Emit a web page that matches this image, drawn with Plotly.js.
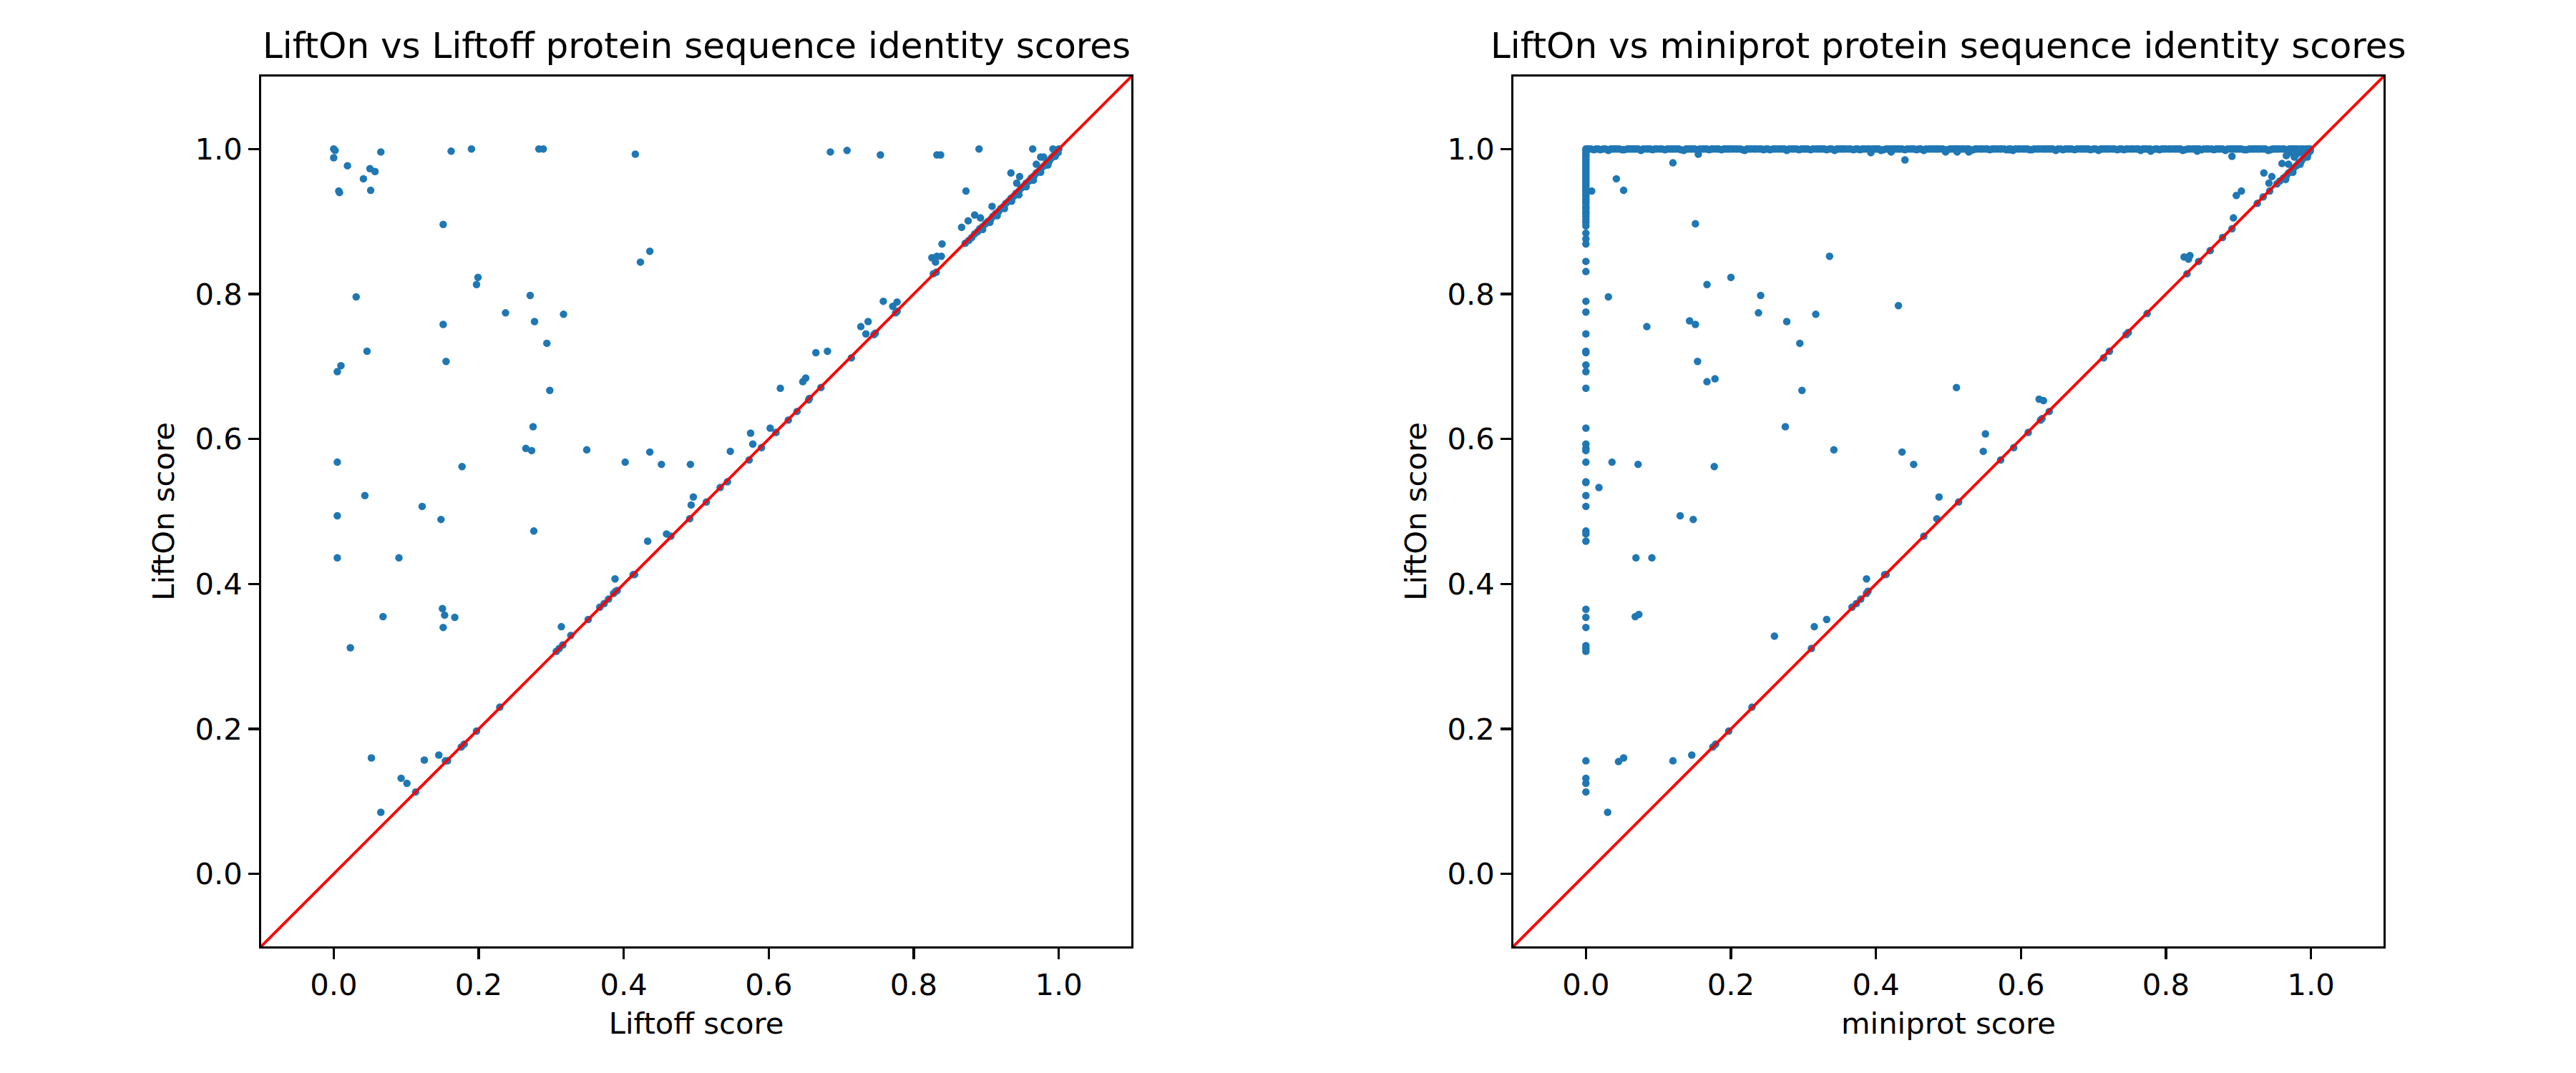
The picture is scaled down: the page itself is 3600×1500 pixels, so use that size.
<!DOCTYPE html>
<html>
<head>
<meta charset="utf-8">
<script src="https://cdn.plot.ly/plotly-3.0.1.min.js"></script>
<style>html,body{margin:0;padding:0;background:#fff;}</style>
</head>
<body>
<div id="chart" style="width:3600px;height:1500px;"></div>
<script>
// ---------- DATA ----------
const titles = ["LiftOn vs Liftoff protein sequence identity scores", "LiftOn vs miniprot protein sequence identity scores"];
const xLabels = ["Liftoff score", "miniprot score"];
const yLabel = "LiftOn score";
const tickValues = [0.0, 0.2, 0.4, 0.6, 0.8, 1.0];
const tickLabels = ["0.0", "0.2", "0.4", "0.6", "0.8", "1.0"];
const axisRange = [-0.1, 1.1];
const diagonal = [-0.1, 1.1];

// Left panel: Liftoff score (x) vs LiftOn score (y)
const liftoffScore = [
  0.000,0.002,0.000,0.019,0.065,0.050,0.057,0.041,0.007,0.008,0.051,0.162,0.190,0.283,0.289,0.416,
  0.151,0.436,0.423,0.199,0.197,0.031,0.271,0.237,0.317,0.277,0.151,0.294,0.046,0.155,0.010,0.005,
  0.298,0.275,0.265,0.273,0.349,0.005,0.177,0.402,0.436,0.452,0.492,0.043,0.122,0.496,0.493,0.005,
  0.148,0.276,0.433,0.459,0.465,0.491,0.005,0.090,0.388,0.413,0.415,0.386,0.389,0.391,0.379,0.373,
  0.367,0.351,0.068,0.150,0.153,0.167,0.151,0.314,0.327,0.316,0.311,0.307,0.023,0.229,0.197,0.176,
  0.180,0.052,0.125,0.145,0.154,0.157,0.093,0.101,0.113,0.065,
  0.685,0.708,0.754,0.832,0.837,0.890,0.964,0.992,0.975,0.979,0.969,0.934,0.946,0.942,0.872,0.908,
  0.884,0.892,0.875,0.866,0.839,0.825,0.832,0.838,0.830,0.827,0.831,0.758,0.771,0.777,0.775,0.777,
  0.727,0.737,0.734,0.745,0.747,0.665,0.681,0.714,0.647,0.651,0.616,0.672,0.655,0.656,0.639,0.627,
  0.602,0.610,0.575,0.578,0.590,0.547,0.573,0.533,0.543,0.514,
  0.871,0.876,0.880,0.884,0.888,0.891,0.895,0.899,0.902,0.906,0.909,0.913,0.917,0.920,0.924,0.927,
  0.931,0.934,0.938,0.941,0.945,0.948,0.952,0.955,0.959,0.962,0.966,0.969,0.973,0.976,0.980,0.983,
  0.987,0.990,0.993,0.996,0.998,1.000,0.999,0.995,0.985,0.975,0.965,0.955,0.945,0.935,0.925,0.915,
  0.905,0.895,0.996,0.986
];
const liftonVsLiftoff = [
  1.000,0.998,0.988,0.977,0.996,0.973,0.969,0.959,0.942,0.940,0.943,0.997,1.000,1.000,1.000,0.993,
  0.896,0.859,0.844,0.823,0.813,0.796,0.798,0.774,0.772,0.762,0.758,0.732,0.721,0.707,0.701,0.693,
  0.667,0.617,0.587,0.584,0.585,0.568,0.562,0.568,0.582,0.565,0.565,0.522,0.507,0.520,0.509,0.494,
  0.489,0.473,0.459,0.469,0.466,0.490,0.436,0.436,0.407,0.413,0.413,0.387,0.390,0.391,0.379,0.373,
  0.368,0.351,0.355,0.366,0.357,0.354,0.340,0.341,0.329,0.316,0.311,0.307,0.312,0.230,0.197,0.175,
  0.179,0.160,0.157,0.164,0.156,0.156,0.132,0.125,0.113,0.085,
  0.996,0.998,0.992,0.992,0.992,1.000,1.000,1.000,0.989,0.989,0.979,0.967,0.962,0.953,0.942,0.921,
  0.909,0.905,0.901,0.892,0.869,0.850,0.852,0.852,0.844,0.828,0.830,0.790,0.783,0.789,0.774,0.776,
  0.755,0.762,0.745,0.744,0.746,0.719,0.721,0.712,0.679,0.684,0.670,0.671,0.654,0.656,0.638,0.626,
  0.615,0.609,0.608,0.593,0.588,0.583,0.571,0.533,0.541,0.513,
  0.870,0.874,0.878,0.883,0.886,0.890,0.893,0.897,0.900,0.903,0.907,0.911,0.914,0.918,0.921,0.925,
  0.928,0.932,0.935,0.939,0.942,0.946,0.949,0.953,0.956,0.960,0.963,0.967,0.970,0.974,0.977,0.981,
  0.984,0.988,0.991,0.994,0.997,1.000,0.995,0.990,0.978,0.968,0.957,0.948,0.937,0.928,0.918,0.908,
  0.899,0.889,0.998,0.982
];

// Right panel: miniprot score (x) vs LiftOn score (y)
const miniprotScore = [
  // points at LiftOn = 1.0 across the whole miniprot range
  0.000,0.004,0.011,0.017,0.024,0.031,0.037,0.043,0.050,0.057,0.063,0.069,0.076,0.083,0.089,0.095,
  0.102,0.109,0.115,0.121,0.128,0.135,0.141,0.147,0.154,0.161,0.167,0.173,0.180,0.187,0.193,0.199,
  0.206,0.213,0.219,0.225,0.232,0.239,0.245,0.251,0.258,0.265,0.271,0.277,0.284,0.291,0.297,0.303,
  0.310,0.317,0.323,0.329,0.336,0.343,0.349,0.355,0.362,0.369,0.375,0.381,0.388,0.395,0.401,0.407,
  0.414,0.421,0.427,0.433,0.440,0.447,0.453,0.459,0.466,0.473,0.479,0.485,0.492,0.499,0.505,0.511,
  0.518,0.525,0.531,0.537,0.544,0.551,0.557,0.563,0.570,0.577,0.583,0.589,0.596,0.603,0.609,0.615,
  0.622,0.629,0.635,0.641,0.648,0.655,0.661,0.667,0.674,0.681,0.687,0.693,0.700,0.707,0.713,0.719,
  0.726,0.733,0.739,0.745,0.752,0.759,0.765,0.771,0.778,0.785,0.791,0.797,0.804,0.811,0.817,0.823,
  0.830,0.837,0.843,0.849,0.856,0.863,0.869,0.875,0.882,0.889,0.895,0.901,0.908,0.915,0.921,0.927,
  0.934,0.941,0.947,0.953,0.960,0.967,0.973,0.979,0.986,0.993,0.999,
  0.002,0.007,0.014,0.020,0.027,0.034,0.040,0.046,0.053,0.060,
  0.066,0.072,0.079,0.086,0.092,0.098,0.105,0.112,0.118,0.124,
  0.131,0.138,0.144,0.150,0.157,0.164,0.170,0.176,0.183,0.190,
  0.196,0.202,0.209,0.216,0.222,0.228,0.235,0.242,0.248,0.254,
  0.261,0.268,0.274,0.280,0.287,0.294,0.300,0.306,0.313,0.320,
  0.326,0.332,0.339,0.346,0.352,0.358,0.365,0.372,0.378,0.384,
  0.391,0.398,0.404,0.410,0.417,0.424,0.430,0.436,0.443,0.450,
  0.456,0.462,0.469,0.476,0.482,0.488,0.495,0.502,0.508,0.514,
  0.521,0.528,0.534,0.540,0.547,0.554,0.560,0.566,0.573,0.580,
  0.586,0.592,0.599,0.606,0.612,0.618,0.625,0.632,0.638,0.644,
  0.651,0.658,0.664,0.670,0.677,0.684,0.690,0.696,0.703,0.710,
  0.716,0.722,0.729,0.736,0.742,0.748,0.755,0.762,0.768,0.774,
  0.781,0.788,0.794,0.800,0.807,0.814,0.820,0.826,0.833,0.840,
  0.846,0.852,0.859,0.866,0.872,0.878,0.885,0.892,0.898,0.904,
  0.911,0.918,0.924,0.930,0.937,0.944,0.950,0.956,0.963,0.970,
  0.976,0.982,0.989,0.996,
  // points at miniprot = 0
  0.000,0.000,0.000,0.000,0.000,0.000,0.000,0.000,0.000,0.000,0.000,0.000,0.000,0.000,0.000,0.000,
  0.000,0.000,0.000,0.000,0.000,0.000,0.000,0.000,0.000,0.000,0.000,0.000,0.000,0.000,0.000,0.000,
  0.000,0.000,0.000,0.000,0.000,0.000,0.000,0.000,0.000,0.000,0.000,0.000,0.000,0.000,0.000,0.000,
  0.000,0.000,0.000,0.000,0.000,0.000,0.000,0.000,0.000,0.000,0.000,0.000,0.000,0.000,0.000,0.000,
  0.000,0.000,0.000,0.000,
  // scattered points
  0.155,0.120,0.042,0.052,0.008,0.393,0.421,0.440,0.496,0.151,0.336,0.200,0.167,0.031,0.241,0.431,
  0.238,0.317,0.143,0.151,0.277,0.084,0.295,0.154,0.167,0.178,0.298,0.275,0.342,0.436,0.452,0.036,
  0.072,0.177,0.018,0.487,0.512,0.528,0.584,0.779,0.843,0.891,0.966,0.960,0.969,0.977,0.935,0.946,
  0.942,0.943,0.953,0.957,0.904,0.897,0.934,0.926,0.893,0.891,0.878,0.861,0.825,0.833,0.831,0.845,
  0.829,0.774,0.745,0.748,0.714,0.722,0.511,0.625,0.631,0.639,0.627,0.629,0.610,0.551,0.548,0.590,
  0.572,0.514,0.130,0.148,0.069,0.091,0.068,0.073,0.260,0.315,0.332,0.311,0.229,0.197,0.175,0.179,
  0.387,0.387,0.389,0.379,0.373,0.367,0.412,0.414,0.466,0.484,0.045,0.052,0.120,0.146,0.030,
  // dense cluster near the diagonal at the top right
  0.962,0.966,0.969,0.973,0.976,0.980,0.983,0.987,0.990,0.993,0.996,0.999,0.985,0.975,0.965,0.995,
  0.970,0.980,0.985,0.990,0.994
];
const liftonVsMiniprot = [
  1.000,1.000,0.999,1.000,1.000,0.998,1.000,1.000,0.999,1.000,1.000,1.000,0.998,1.000,1.000,1.000,
  1.000,0.999,1.000,1.000,1.000,0.998,1.000,1.000,0.999,1.000,1.000,1.000,1.000,0.999,1.000,1.000,
  1.000,1.000,0.998,1.000,1.000,1.000,0.999,1.000,1.000,1.000,1.000,0.998,1.000,1.000,1.000,1.000,
  0.999,1.000,1.000,1.000,1.000,0.998,1.000,1.000,1.000,0.999,1.000,1.000,1.000,1.000,1.000,0.998,
  1.000,1.000,1.000,1.000,0.999,1.000,1.000,1.000,0.998,1.000,1.000,1.000,1.000,0.999,1.000,1.000,
  1.000,1.000,0.998,1.000,1.000,1.000,0.999,1.000,1.000,1.000,1.000,0.998,1.000,1.000,1.000,0.999,
  1.000,1.000,1.000,1.000,0.998,1.000,1.000,1.000,0.999,1.000,1.000,1.000,1.000,0.998,1.000,1.000,
  1.000,0.999,1.000,1.000,1.000,1.000,0.998,1.000,1.000,1.000,0.999,1.000,1.000,1.000,1.000,0.998,
  1.000,1.000,1.000,0.999,1.000,1.000,1.000,1.000,0.998,1.000,1.000,1.000,0.999,1.000,1.000,1.000,
  1.000,0.998,1.000,1.000,1.000,0.999,1.000,1.000,1.000,1.000,1.000,
  1.000,1.000,1.000,0.999,1.000,1.000,1.000,1.000,0.999,1.000,
  1.000,1.000,1.000,1.000,0.999,1.000,1.000,1.000,1.000,1.000,
  0.999,1.000,1.000,1.000,1.000,1.000,0.999,1.000,1.000,1.000,
  1.000,1.000,1.000,0.999,1.000,1.000,1.000,1.000,1.000,0.999,
  1.000,1.000,1.000,1.000,1.000,0.999,1.000,1.000,1.000,1.000,
  1.000,0.999,1.000,1.000,1.000,1.000,1.000,1.000,0.999,1.000,
  1.000,1.000,1.000,0.999,1.000,1.000,1.000,1.000,1.000,1.000,
  0.999,1.000,1.000,1.000,1.000,1.000,0.999,1.000,1.000,1.000,
  1.000,1.000,0.999,1.000,1.000,1.000,1.000,1.000,1.000,0.999,
  1.000,1.000,1.000,1.000,0.999,1.000,1.000,1.000,1.000,1.000,
  1.000,0.999,1.000,1.000,1.000,1.000,1.000,0.999,1.000,1.000,
  1.000,1.000,1.000,1.000,0.999,1.000,1.000,1.000,1.000,1.000,
  0.999,1.000,1.000,1.000,1.000,1.000,1.000,0.999,1.000,1.000,
  1.000,1.000,1.000,0.999,1.000,1.000,1.000,1.000,1.000,1.000,
  0.999,1.000,1.000,1.000,1.000,0.999,1.000,1.000,1.000,1.000,
  1.000,1.000,1.000,1.000,
  0.998,0.995,0.992,0.989,0.986,0.983,0.980,0.977,0.974,0.971,0.968,0.965,0.962,0.959,0.956,0.953,
  0.950,0.947,0.944,0.941,0.938,0.935,0.931,0.928,0.925,0.921,0.918,0.914,0.911,0.907,0.903,0.899,
  0.894,0.884,0.876,0.869,0.845,0.831,0.790,0.775,0.745,0.721,0.719,0.702,0.693,0.670,0.615,0.593,
  0.587,0.584,0.568,0.541,0.540,0.522,0.507,0.473,0.469,0.459,0.365,0.354,0.340,0.315,0.311,0.307,
  0.156,0.132,0.125,0.113,
  0.993,0.981,0.959,0.943,0.942,0.995,0.996,0.985,0.996,0.897,0.852,0.823,0.813,0.796,0.798,0.784,
  0.774,0.772,0.763,0.758,0.762,0.755,0.732,0.707,0.679,0.683,0.667,0.617,0.585,0.582,0.565,0.568,
  0.565,0.562,0.533,0.520,0.996,0.996,0.999,0.997,0.997,0.990,0.991,0.980,0.979,0.989,0.967,0.962,
  0.953,0.942,0.952,0.956,0.942,0.936,0.934,0.925,0.905,0.890,0.878,0.860,0.851,0.853,0.848,0.845,
  0.828,0.773,0.744,0.747,0.712,0.721,0.671,0.655,0.653,0.638,0.626,0.628,0.609,0.607,0.583,0.588,
  0.571,0.513,0.494,0.489,0.436,0.436,0.355,0.358,0.328,0.341,0.351,0.311,0.230,0.197,0.175,0.179,
  0.407,0.387,0.390,0.379,0.373,0.368,0.413,0.413,0.466,0.490,0.155,0.160,0.156,0.164,0.085,
  0.960,0.963,0.967,0.970,0.974,0.977,0.981,0.984,0.988,0.991,0.994,0.997,0.979,0.968,0.958,0.989,
  0.995,0.993,0.996,0.998,0.998
];

// ---------- STYLE ----------
const FONT = "DejaVu Sans, sans-serif";
const blue = "#1f77b4";
const TICK_PX = 41.7;
const TITLE_PX = 50;
const MARKER = 10.5;

function makeAxis(domain, anchor, titleText) {
  return {
    domain: domain,
    anchor: anchor,
    range: axisRange,
    autorange: false,
    tickmode: "array",
    tickvals: tickValues,
    ticktext: tickLabels,
    ticks: "outside",
    ticklen: 14.6,
    tickwidth: 3.3,
    tickcolor: "#000",
    showline: true,
    linecolor: "#000",
    linewidth: 3.3,
    mirror: true,
    showgrid: false,
    zeroline: false,
    automargin: false,
    tickfont: {family: FONT, size: TICK_PX, color: "#000"},
    title: {text: titleText, font: {family: FONT, size: TICK_PX, color: "#000"}, standoff: 17}
  };
}

const traces = [
  {x: liftoffScore, y: liftonVsLiftoff, type: "scatter", mode: "markers",
   marker: {color: blue, size: MARKER, line: {width: 0}}, xaxis: "x", yaxis: "y", showlegend: false},
  {x: diagonal, y: diagonal, type: "scatter", mode: "lines",
   line: {color: "red", width: 4}, xaxis: "x", yaxis: "y", showlegend: false},
  {x: miniprotScore, y: liftonVsMiniprot, type: "scatter", mode: "markers",
   marker: {color: blue, size: MARKER, line: {width: 0}}, xaxis: "x2", yaxis: "y2", showlegend: false},
  {x: diagonal, y: diagonal, type: "scatter", mode: "lines",
   line: {color: "red", width: 4}, xaxis: "x2", yaxis: "y2", showlegend: false}
];

const L = 365, R = 3600 - 3331, T = 107, B = 1500 - 1323;
const innerW = 3600 - L - R;
const leftDom = [0, 1216 / innerW];
const rightDom = [(2115 - L) / innerW, 1];

const layout = {
  width: 3600, height: 1500,
  margin: {l: L, r: R, t: T, b: B, pad: 0},
  paper_bgcolor: "#fff", plot_bgcolor: "#fff",
  font: {family: FONT, color: "#000"},
  showlegend: false,
  xaxis: makeAxis(leftDom, "y", xLabels[0]),
  yaxis: makeAxis([0, 1], "x", yLabel),
  xaxis2: makeAxis(rightDom, "y2", xLabels[1]),
  yaxis2: makeAxis([0, 1], "x2", yLabel),
  annotations: [
    {text: titles[0], xref: "paper", yref: "paper", x: (leftDom[0] + leftDom[1]) / 2, y: 1,
     xanchor: "center", yanchor: "bottom", yshift: 12, showarrow: false,
     font: {family: FONT, size: TITLE_PX, color: "#000"}},
    {text: titles[1], xref: "paper", yref: "paper", x: (rightDom[0] + rightDom[1]) / 2, y: 1,
     xanchor: "center", yanchor: "bottom", yshift: 12, showarrow: false,
     font: {family: FONT, size: TITLE_PX, color: "#000"}}
  ]
};

Plotly.newPlot("chart", traces, layout, {staticPlot: true, displayModeBar: false});
</script>
</body>
</html>
